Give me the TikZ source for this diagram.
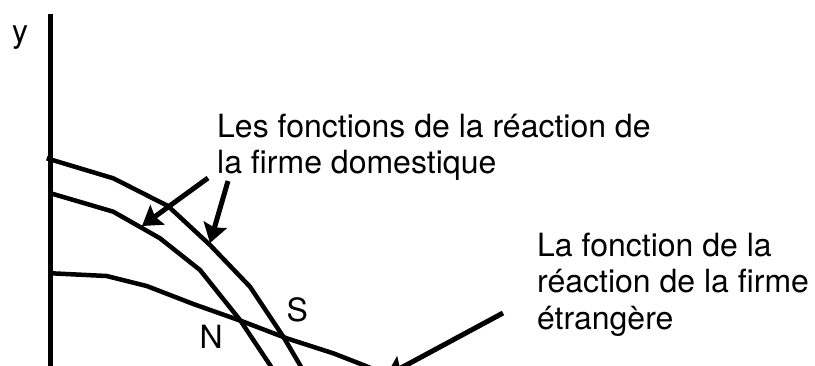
\documentclass[tikz,border=0pt]{standalone}
\usepackage{fontspec}
\setmainfont{TeX Gyre Heros}
\usetikzlibrary{arrows.meta}
\tikzset{
  curve/.style={line width=4.5pt, line join=round, line cap=butt},
  axisline/.style={line width=5pt},
  callout/.style={line width=5pt, -{Stealth[length=19pt,width=24pt,inset=3pt]}},
  lbl/.style={inner sep=0pt, anchor=base west, font=\fontsize{32pt}{36.5pt}\selectfont, align=left},
}
\begin{document}
\begin{tikzpicture}[x=1pt,y=-1pt]
\useasboundingbox (0,0) rectangle (815,365);
\clip (0,0) rectangle (815,365);
% axis
\coordinate (axtop) at (50.5,14);
\coordinate (axbot) at (50.5,380);
\draw[axisline] (axtop) -- (axbot);
\node[lbl] (ylab) at (12,42) {y};
% domestic reaction functions
\draw[curve] (46.7,158.3) -- (113.3,178.3) -- (168,206) -- (210,245) -- (250,286.7) -- (283.3,336.7) -- (300,365) -- (305,375);
\draw[curve] (50.7,193.3) -- (113.3,211.7) -- (160,238.3) -- (200,270) -- (240,320) -- (270,365) -- (276,375);
% foreign reaction function
\draw[curve] (51.7,273.3) -- (106.7,276) -- (146.7,286) -- (193.3,304) -- (243.3,321.7) -- (286.7,338.3) -- (333.3,353.3) -- (363.3,365) -- (390,376);
% labels (base anchor = baseline of the last line)
\node[lbl] (dom) at (217,173.5) {Les fonctions de la réaction de\\la firme domestique};
\node[lbl] (for) at (537,329) {La fonction de la\\réaction de la firme\\étrangère};
\node[lbl] (S) at (286.5,321) {S};
\node[lbl] (N) at (199.5,348) {N};
% arrows
\coordinate (a1s) at (208,178);
\coordinate (a1e) at (142,226);
\coordinate (a2s) at (228,181);
\coordinate (a2e) at (210,243);
\coordinate (a3s) at (503,313);
\coordinate (a3e) at (386,376);
\draw[callout] (a1s) -- (a1e);
\draw[callout] (a2s) -- (a2e);
\draw[callout] (a3s) -- (a3e);
\end{tikzpicture}
\end{document}
